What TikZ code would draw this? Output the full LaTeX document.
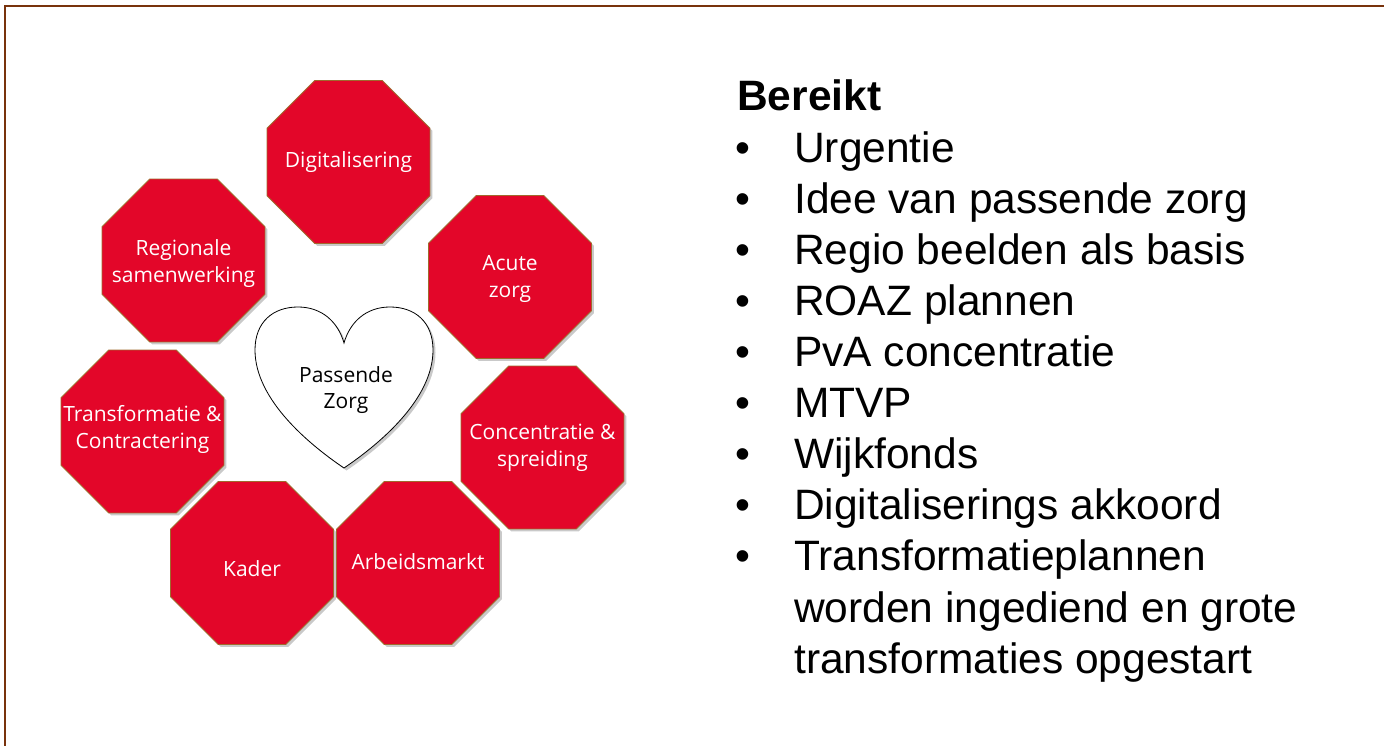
\documentclass[tikz,border=0pt]{standalone}
\usepackage{fontspec}
\setmainfont{Liberation Sans}
\newfontfamily\octfont{Open Sans}
\usetikzlibrary{shapes.geometric,shadows}
\definecolor{octred}{RGB}{227,6,41}
\definecolor{octedge}{RGB}{160,105,45}
\definecolor{framebrown}{RGB}{120,50,12}
\tikzset{
  oct/.style={regular polygon, regular polygon sides=8,
    minimum size=176.4pt, inner sep=0pt, fill=octred, draw=octedge, line width=0.8pt,
    drop shadow={shadow xshift=2.5pt, shadow yshift=-2.5pt, opacity=0.35, fill=black!60}},
  octtxt/.style={text=white, font=\octfont\fontsize{21}{27}\selectfont, align=center, inner sep=0pt},
  hearttxt/.style={text=black, font=\octfont\fontsize{21}{26}\selectfont, align=center, inner sep=0pt},
  listtxt/.style={anchor=base west, inner sep=0pt, font=\fontsize{42.5}{50}\selectfont},
  listhead/.style={anchor=base west, inner sep=0pt, font=\bfseries\fontsize{42.5}{50}\selectfont},
}
\begin{document}
\begin{tikzpicture}[x=1pt,y=-1pt]
\useasboundingbox (0,0) rectangle (1384,746);
\fill[white] (0,0) rectangle (1384,746);
% frame
\draw[framebrown, line width=2.6pt] (5,750) -- (5,6) -- (1390,6);

% heart
\draw[black, line width=0.8pt, fill=white,
  drop shadow={shadow xshift=2.5pt, shadow yshift=-2.5pt, opacity=0.35, fill=black!60}]
  (344,468) .. controls (310,445) and (255,400) .. (255,350)
  .. controls (255,322) and (273,307) .. (298,307)
  .. controls (322,307) and (338,322) .. (344,343)
  .. controls (350,322) and (366,307) .. (390,307)
  .. controls (415,307) and (433,322) .. (433,350)
  .. controls (433,400) and (378,445) .. (344,468) -- cycle;
\node[hearttxt] (heart) at (346,390) {Passende\\Zorg};

% octagons
\node[oct] (dig) at (348.5,162) {};
\node[octtxt] (digt) at (dig) {Digitalisering};
\node[oct] (reg) at (183.5,260.5) {};
\node[octtxt] (regt) at (183.5,264) {Regionale\\samenwerking};
\node[oct] (acu) at (510,277) {};
\node[octtxt] (acut) at (510,279) {Acute\\zorg};
\node[oct] (tra) at (142.5,431.5) {};
\node[octtxt] (trat) at (142.5,429.5) {Transformatie \&\\Contractering};
\node[oct] (con) at (542.5,447.5) {};
\node[octtxt] (cont) at (542.5,448) {Concentratie \&\\spreiding};
\node[oct] (kad) at (252,563) {};
\node[octtxt] (kadt) at (252,569) {Kader};
\node[oct] (arb) at (418,563) {};
\node[octtxt] (arbt) at (418,562) {Arbeidsmarkt};

% list
\node[listhead] (head) at (737,111) {Bereikt};
\foreach \i/\t in {1/Urgentie, 2/Idee van passende zorg, 3/Regio beelden als basis,
  4/ROAZ plannen, 5/PvA concentratie, 6/MTVP, 7/Wijkfonds, 8/Digitaliserings akkoord,
  9/Transformatieplannen}{
  \node[listtxt] (b\i) at (735,{111+51.1*\i}) {•};
  \node[listtxt] (l\i) at (794,{111+51.1*\i}) {\t};
}
\node[listtxt] (l10) at (794,{111+51.1*10}) {worden ingediend en grote};
\node[listtxt] (l11) at (794,{111+51.1*11}) {transformaties opgestart};
\end{tikzpicture}
\end{document}
